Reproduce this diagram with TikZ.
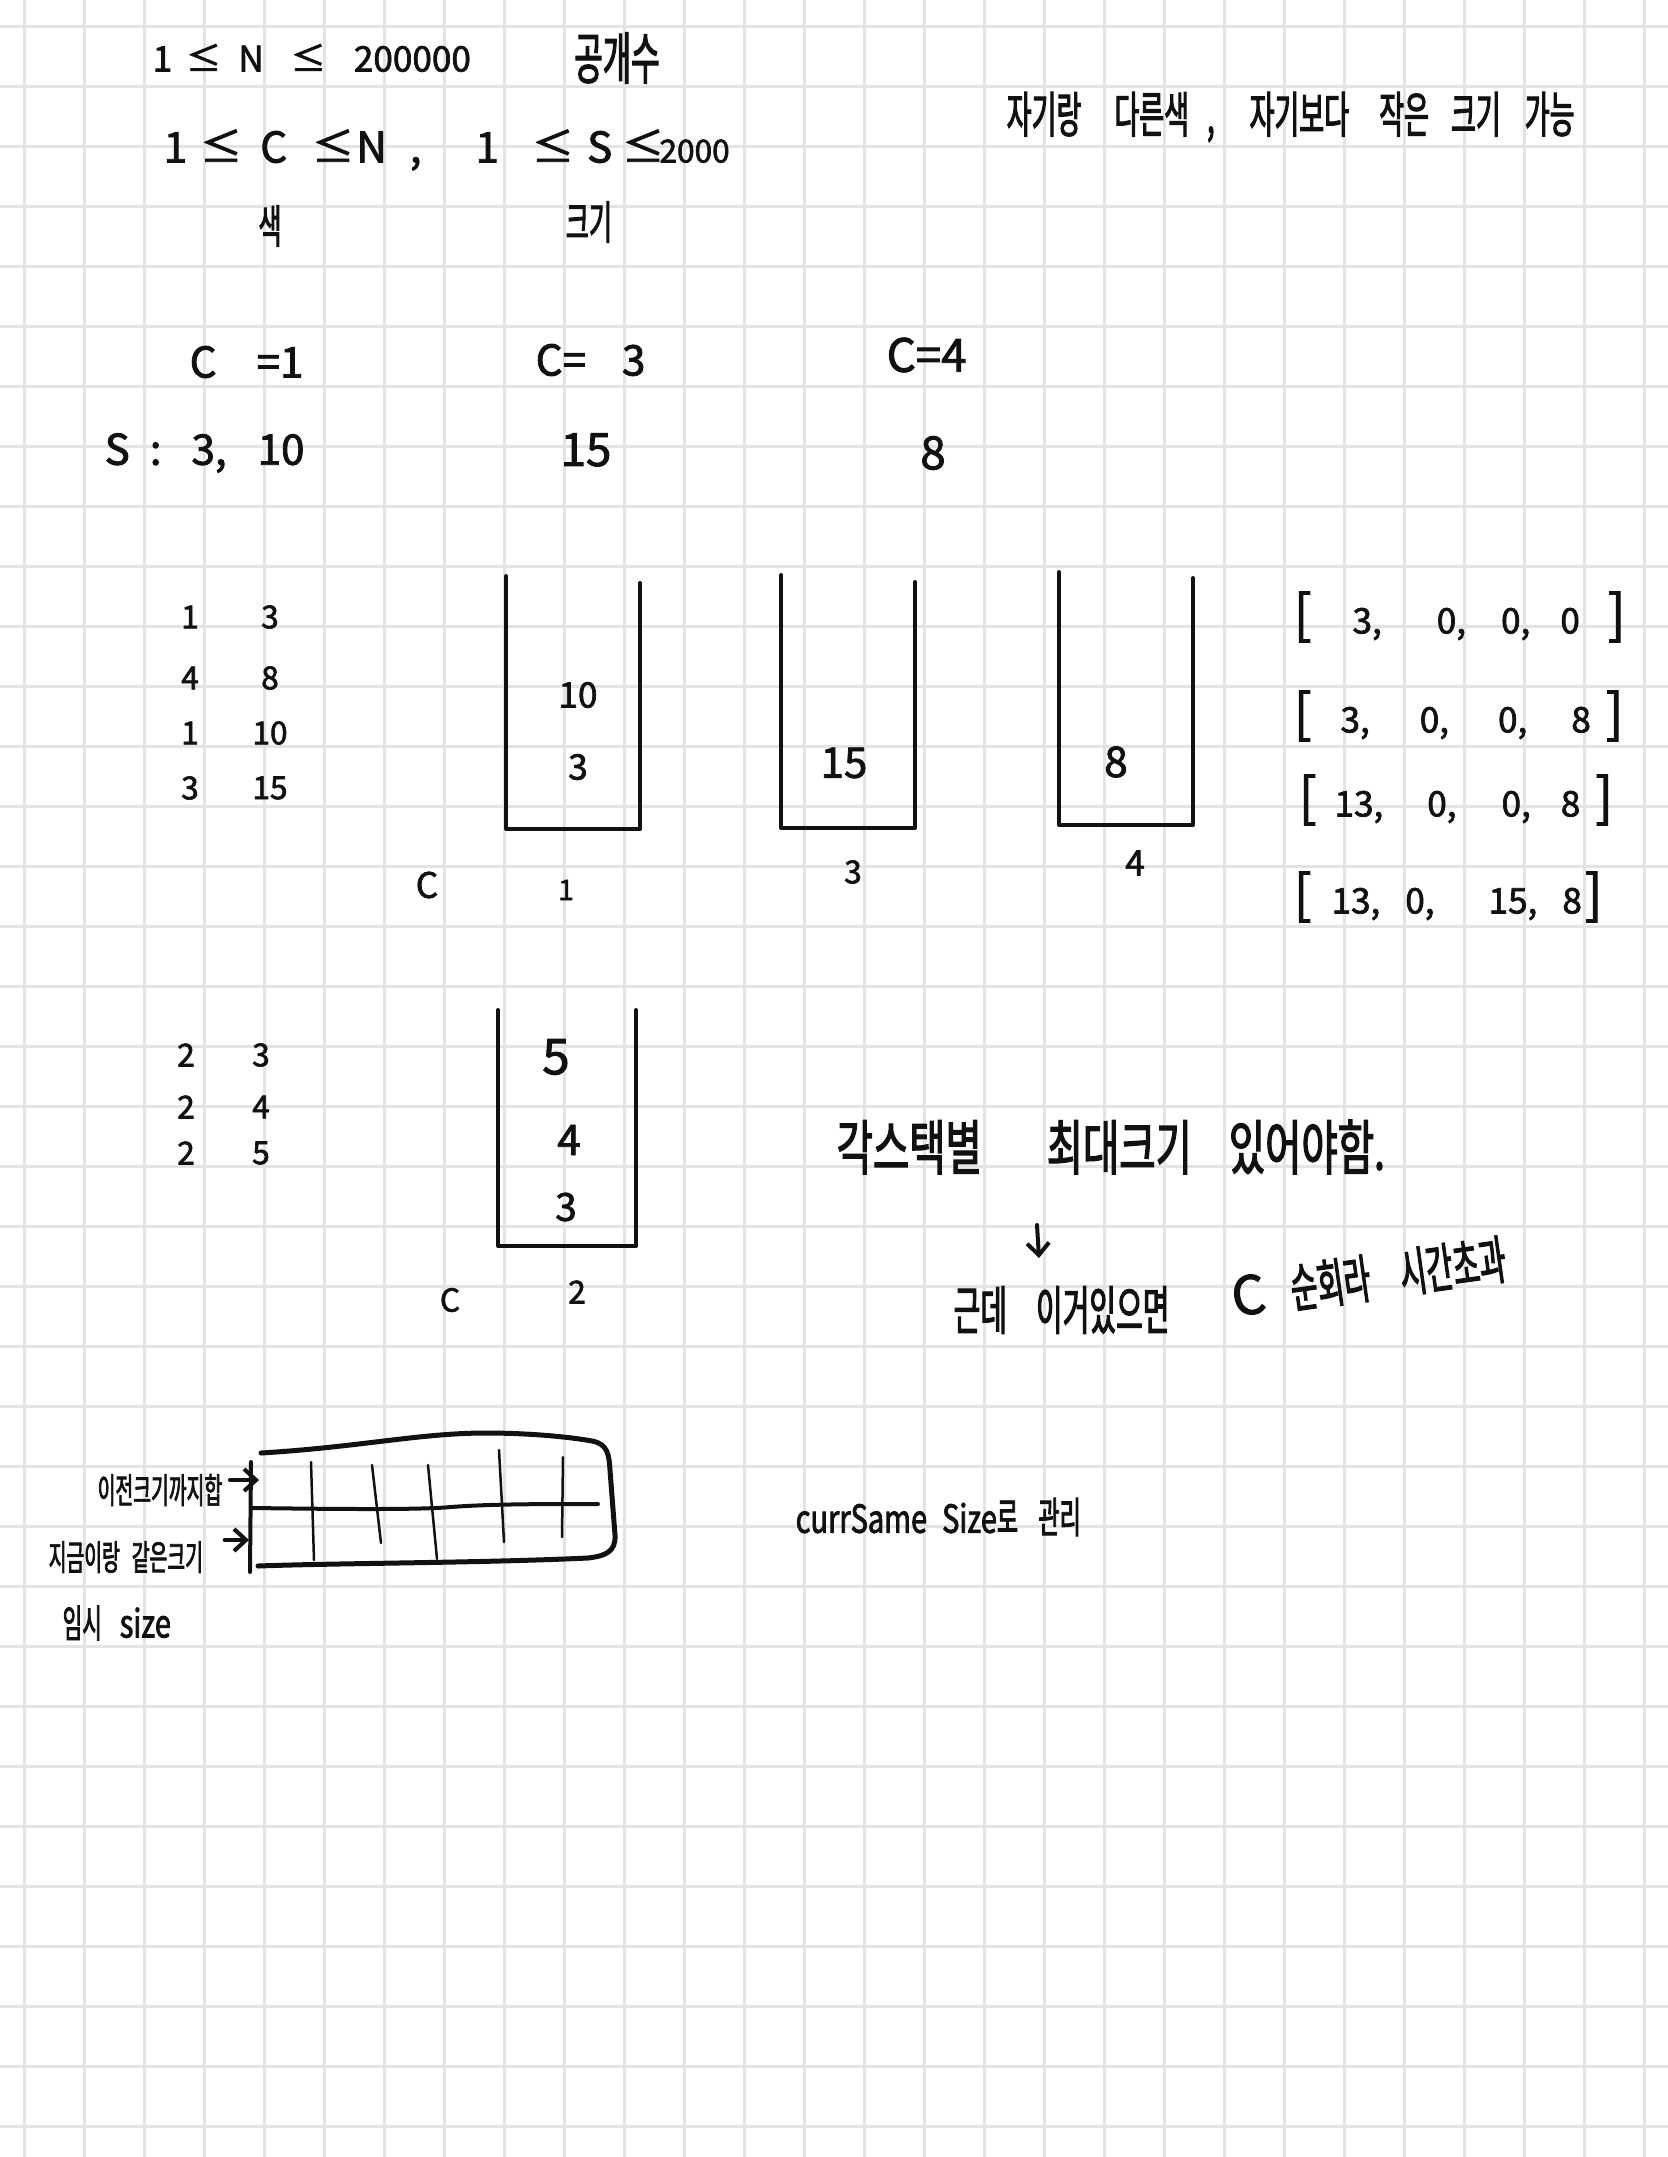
\documentclass[tikz,border=0pt]{standalone}
\usepackage{fontspec}
\setmainfont{Noto Sans CJK KR}[FakeBold=2]
\newfontfamily\hand{Noto Sans CJK KR}[FakeStretch=0.55, FakeBold=2]
\newfontfamily\handw{Noto Sans CJK KR}[FakeStretch=0.66, FakeBold=2]
\newfontfamily\nar{Noto Sans CJK KR}[FakeStretch=0.75, FakeBold=2]
\usepackage{tikz}
\usetikzlibrary{arrows.meta,positioning,calc}
\definecolor{gridColor}{HTML}{E3E3E3}
\definecolor{inkColor}{HTML}{111111}
\tikzset{
	gridline/.style={draw=gridColor, line width=0.3mm},
	pen/.style={draw=inkColor, line width=0.4mm, line cap=round, line join=round},
	thin pen/.style={pen, line width=0.25mm},
	num/.style={inner sep=0pt, text=inkColor, font=\fontsize{#1}{#1}\selectfont},
	num/.default=10pt,
	kor/.style={inner sep=0pt, text=inkColor, font=\hand\fontsize{#1}{#1}\selectfont},
	kor/.default=12pt,
	tick/.style={pen, -{Straight Barb[length=1.2mm,width=2.2mm]}}
}
\newcommand{\brk}[1]{{\fontsize{15pt}{15pt}\selectfont #1}}
\newcommand{\lat}[1]{{\nar #1}}

\begin{document}
\begin{tikzpicture}[x=0.1mm, y=-0.1mm]
	\useasboundingbox (0,0) rectangle (1668,2157);
	\fill[white] (0,0) rectangle (1668,2157);
	\foreach \gx in {24,84,...,1644} \draw[gridline] (\gx,0) -- (\gx,2157);
	\foreach \gy in {26,86,...,2126} \draw[gridline] (0,\gy) -- (1668,\gy);

	\node[num=10pt, anchor=west] (lnN) at (152,58) {1\hspace{1.4mm}≤\hspace{1.7mm}N\hspace{2.7mm}≤\hspace{2.8mm}200000};
	\node[kor=16pt] (lnCnt) at (617,58) {공개수};
	\node[num=12pt, anchor=west] (lnC) at (163,150) {1\hspace{1.3mm}≤\hspace{1.8mm}C\hspace{2.5mm}≤\hspace{0.2mm}N\hspace{2.3mm},\hspace{5.4mm}1\hspace{3.3mm}≤\hspace{1.3mm}S\hspace{1mm}≤\hspace{-0.5mm}{\fontsize{9pt}{9pt}\selectfont 2000}};
	\node[kor=13pt] (lnColor) at (270,226) {색};
	\node[kor=13pt] (lnSize) at (589,222) {크기};
	\node[kor=14pt, anchor=west] (rule) at (1006,117) {자기랑\hspace{3.3mm}다른색\hspace{1.8mm},\hspace{3.5mm}자기보다\hspace{3mm}작은\hspace{2.2mm}크기\hspace{2.4mm}가능};

	\node[num=12pt, anchor=west] (cOne) at (189,362) {C\hspace{4mm}=1};
	\node[num=12pt, anchor=west] (cThree) at (535,360) {C=\hspace{3.6mm}3};
	\node[num=13pt, anchor=west] (cFour) at (886,355) {C=4};
	\node[num=12pt, anchor=west] (sList) at (104,453) {S\hspace{2mm}:\hspace{3mm}3,\hspace{3.1mm}10};
	\node[num=13pt] (sThree) at (586,450) {15};
	\node[num=13pt] (sFour) at (933,453) {8};

	\node[num=9pt] (pc1) at (190,617) {1};
	\node[num=9pt] (ps1) at (270,617) {3};
	\node[num=9pt] (pc2) at (190,678) {4};
	\node[num=9pt] (ps2) at (270,678) {8};
	\node[num=9pt] (pc3) at (190,733) {1};
	\node[num=9pt] (ps3) at (270,733) {10};
	\node[num=9pt] (pc4) at (190,788) {3};
	\node[num=9pt] (ps4) at (270,788) {15};

	\draw[pen] (506,576) -- (506,829) -- (640,829) -- (640,583);
	\node[num=10pt] (s1_2) at (578,695) {10};
	\node[num=10pt] (s1_1) at (578,767) {3};
	\draw[pen] (781,575) -- (781,828) -- (915,828) -- (915,582);
	\node[num=12pt] (s3_1) at (844,763) {15};
	\draw[pen] (1059,572) -- (1059,825) -- (1193,825) -- (1193,578);
	\node[num=12pt] (s4_1) at (1116,762) {8};
	\node[num=10pt] (cLab) at (427,885) {C};
	\node[num=8pt] (c1Lab) at (566,890) {1};
	\node[num=9pt] (c3Lab) at (853,872) {3};
	\node[num=10pt] (c4Lab) at (1135,863) {4};

	\node[num=10pt, anchor=west] (arr1) at (1293,617) {\brk{[}\hspace{4.1mm}3,\hspace{5.5mm}0,\hspace{3.5mm}0,\hspace{3mm}0\hspace{2.8mm}\brk{]}};
	\node[num=10pt, anchor=west] (arr2) at (1293,716) {\brk{[}\hspace{2.9mm}3,\hspace{5mm}0,\hspace{4.9mm}0,\hspace{4.4mm}8\hspace{1.5mm}\brk{]}};
	\node[num=10pt, anchor=west] (arr3) at (1298,800) {\brk{[}\hspace{1.8mm}13,\hspace{4.4mm}0,\hspace{4.5mm}0,\hspace{3mm}8\hspace{1.5mm}\brk{]}};
	\node[num=10pt, anchor=west] (arr4) at (1293,897) {\brk{[}\hspace{2mm}13,\hspace{2.5mm}0,\hspace{5.4mm}15,\hspace{2.5mm}8\hspace{0.3mm}\brk{]}};

	\node[num=9pt] (qc1) at (186,1055) {2};
	\node[num=9pt] (qs1) at (261,1055) {3};
	\node[num=9pt] (qc2) at (186,1107) {2};
	\node[num=9pt] (qs2) at (261,1107) {4};
	\node[num=9pt] (qc3) at (186,1153) {2};
	\node[num=9pt] (qs3) at (261,1153) {5};

	\draw[pen] (498,1010) -- (498,1246) -- (636,1246) -- (636,1010);
	\node[num=14pt] (s2_3) at (556,1057) {5};
	\node[num=12pt] (s2_2) at (569,1140) {4};
	\node[num=11pt] (s2_1) at (566,1207) {3};
	\node[num=9pt] (cLabB) at (450,1300) {C};
	\node[num=9pt] (c2Lab) at (577,1292) {2};

	\node[kor=17pt, font=\handw\fontsize{17pt}{17pt}\selectfont, anchor=west] (needMax) at (836,1147) {각스택별\hspace{6.5mm}최대크기\hspace{3.7mm}있어야함.};
	\coordinate (dTop) at (1037,1225);
	\coordinate (dBot) at (1039,1258);
	\draw[tick] (dTop) -- (dBot);
	\node[kor=15pt, anchor=west] (butIf) at (953,1310) {근데\hspace{2.9mm}이거있으면};
	\node[kor=15pt, anchor=west, rotate=8] (timeOut) at (1231,1297) {{\rmfamily C}\hspace{2.6mm}순회라\hspace{3mm}시간초과};

	%\draw[pen] (251,1453) rectangle (612,1567);
	\draw[pen, line width=0.5mm] (261,1453) .. controls (360,1447) and (420,1433) .. (486,1433) .. controls (530,1433) and (570,1437) .. (592,1441) .. controls (608,1444) and (609,1455) .. (610,1470) -- (615,1535) .. controls (616,1552) and (605,1556) .. (588,1558) .. controls (480,1563) and (340,1563) .. (258,1566);
	\draw[pen] (251,1462) -- (250,1572);
	\draw[pen] (253,1508) .. controls (330,1509) and (420,1510) .. (451,1507) .. controls (490,1504) and (540,1504) .. (598,1504);
	\draw[thin pen] (311,1462) -- (314,1560);
	\draw[thin pen] (372,1465) -- (381,1543);
	\draw[thin pen] (428,1465) -- (437,1559);
	\draw[thin pen] (499,1450) -- (504,1542);
	\draw[thin pen] (563,1457) -- (562,1537);

	\node[kor=10pt, anchor=west] (prevSum) at (97,1490) {이전크기까지합};
	\coordinate (prevIn) at (259,1480);
	\draw[tick] ($(prevSum.east)+(7,-10)$) -- (prevIn);
	\node[kor=10pt, anchor=west] (sameSize) at (48,1557) {지금이랑\hspace{1.2mm}같은크기};
	\coordinate (sameIn) at (249,1540);
	\draw[tick] ($(sameSize.east)+(21,-17)$) -- (sameIn);
	\node[kor=11pt, anchor=west] (tmpSize) at (62,1623) {임시\hspace{1.8mm}\lat{size}};
	\node[kor=12pt, anchor=west] (currNote) at (795,1517) {{\nar\fontsize{11pt}{11pt}\selectfont currSame\hspace{1.5mm}Size}로\hspace{2mm}관리};
\end{tikzpicture}
\end{document}
